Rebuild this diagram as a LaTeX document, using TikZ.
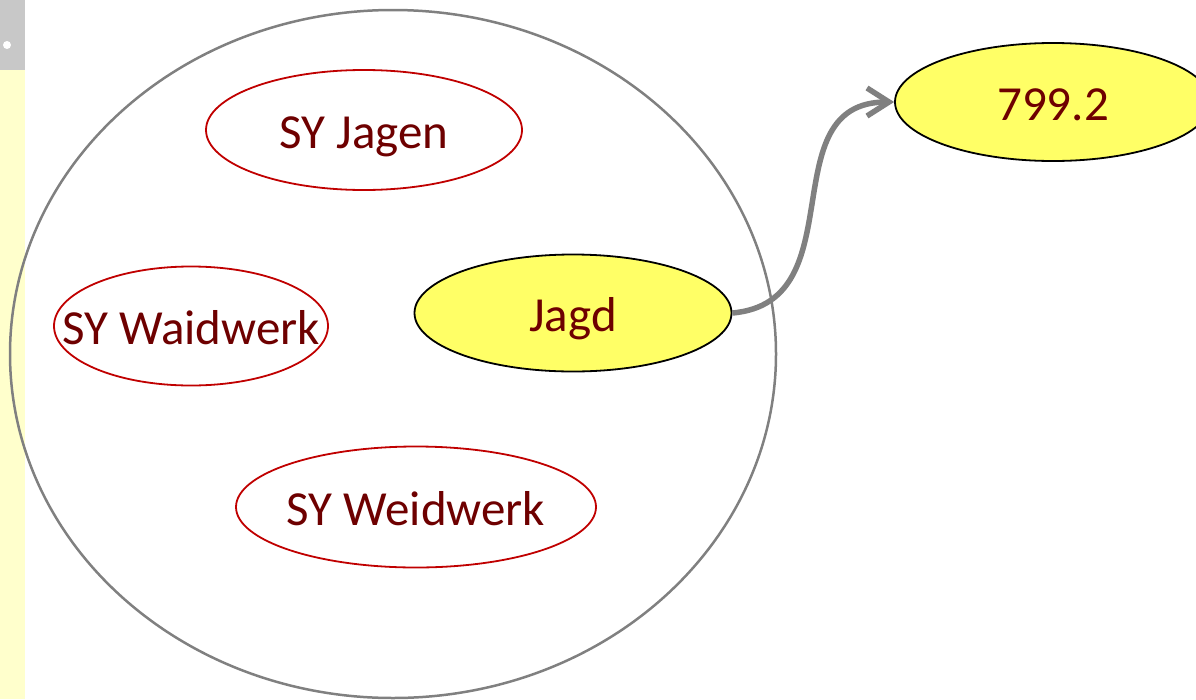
\documentclass[tikz,border=0pt]{standalone}
\usepackage{fontspec}
\setmainfont{Carlito}
\usepackage{xcolor}
\usetikzlibrary{arrows.meta,shapes.geometric}

\definecolor{txtred}{RGB}{110,0,0}
\definecolor{setred}{RGB}{192,0,0}
\definecolor{hitfill}{RGB}{255,255,102}
\definecolor{stripyellow}{RGB}{255,255,204}
\definecolor{stripgrey}{RGB}{200,200,200}
\newcommand{\lbl}[1]{\makebox[0pt]{\smash{\raisebox{-18pt}{#1}}}}

\begin{document}
\begin{tikzpicture}[x=1pt,y=-1pt]
            \tikzset{set/.style = {ellipse, draw=setred, line width=1.8pt, inner sep=0pt, text=txtred, font=\fontsize{49}{52}\selectfont}}
            \tikzset{hit/.style = {set, draw=black, fill=hitfill}}
            \tikzset{edge/.style = {-{Straight Barb[length=22pt,width=28pt]}, draw=gray, line width=5.5pt}}

            \clip (0,0) rectangle (1196,699);

            % side strip
            \fill[stripgrey] (0,0) rectangle (25,70);
            \fill[white] (7,45) circle (4);
            \fill[stripyellow] (0,70) rectangle (25,699);

            % big set
            \node[ellipse, draw=gray, line width=2.5pt, minimum width=766pt, minimum height=688pt] (domain) at (393,354) {};

            % vertices
            \node[set, minimum width=316pt, minimum height=120pt] (jagen) at (364,130) {\lbl{SY Jagen}};
            \node[set, minimum width=274pt, minimum height=119pt] (waidwerk) at (191,326) {\lbl{SY Waidwerk}};
            \node[set, minimum width=360pt, minimum height=121pt] (weidwerk) at (416,507) {\lbl{SY Weidwerk}};
            \node[hit, minimum width=317pt, minimum height=117pt] (jagd) at (573,313) {\lbl{Jagd}};
            \node[hit, minimum width=316pt, minimum height=118pt] (value) at (1053,102) {\lbl{799.2}};

            % edges
            \draw[edge] (jagd.east) to[out=5,in=180,looseness=1.2] (value.west);

          \end{tikzpicture}
\end{document}
